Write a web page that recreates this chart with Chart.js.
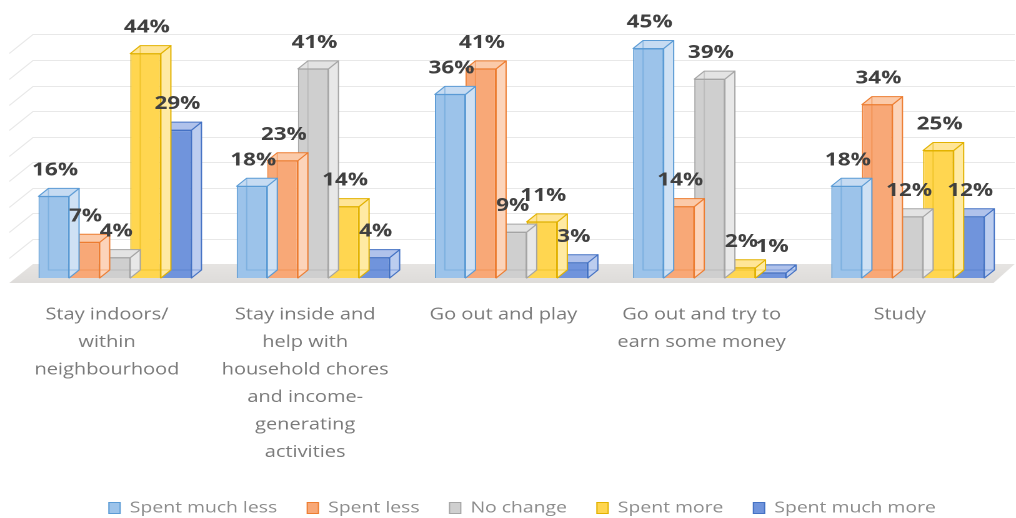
<!DOCTYPE html>
<html>
<head>
<meta charset="utf-8">
<script src="https://cdn.jsdelivr.net/npm/chart.js@4/dist/chart.umd.min.js"></script>
<style>
  html, body { margin: 0; padding: 0; background: #ffffff; }
  #wrap { width: 1016px; height: 518px; }
</style>
</head>
<body>
<div id="wrap"><canvas id="c" width="813" height="518" style="width:1016px;height:518px;display:block"></canvas></div>
<script>
// ---- data ----
const categories = [
  ["Stay indoors/", "within", "neighbourhood"],
  ["Stay inside and", "help with", "household chores", "and income-", "generating", "activities"],
  ["Go out and play"],
  ["Go out and try to", "earn some money"],
  ["Study"]
];
const seriesNames = ["Spent much less", "Spent less", "No change", "Spent more", "Spent much more"];
const spentMuchLess = [16, 18, 36, 45, 18];
const spentLess     = [7, 23, 41, 14, 34];
const noChange      = [4, 41, 9, 39, 12];
const spentMore     = [44, 14, 11, 2, 25];
const spentMuchMore = [29, 4, 3, 1, 12];
const gridValues = [5, 10, 15, 20, 25, 30, 35, 40, 45];

// ---- styling ----
const palette = [
  { front: '#9cc3ea', side: '#cfe1f4', top: '#c6dbf2', edge: '#5b9bd5' },
  { front: '#f8a877', side: '#fcd4ba', top: '#fbcaa9', edge: '#ed7d31' },
  { front: '#cfcfcf', side: '#e8e8e8', top: '#e3e3e3', edge: '#a5a5a5' },
  { front: '#ffd650', side: '#ffeaa3', top: '#ffe597', edge: '#e2b200' },
  { front: '#7094dc', side: '#bccdef', top: '#b0c2eb', edge: '#4472c4' }
];
const DEPTH_X = 8, DEPTH_Y = -8;     // bar depth offset
const WALL_Y = -14;                  // back wall offset relative to bar fronts
const FLOOR = { backY: 264, frontY: 283, backL: 26.4, frontL: 7.4, backR: 812, frontR: 795 };
const PLOT_BOTTOM = 278;             // front edge of the bars' base
const LEGEND_ROW_Y = 508;
const LEGEND_SHIFT_X = 8.8;

const seriesValues = [spentMuchLess, spentLess, noChange, spentMore, spentMuchMore];

// floor and back-wall grid drawn behind the bars
const roomPlugin = {
  id: 'room',
  beforeDatasetsDraw(chart) {
    const ctx = chart.ctx;
    const y = chart.scales.y;
    ctx.save();
    // floor
    ctx.beginPath();
    ctx.moveTo(FLOOR.backL, FLOOR.backY);
    ctx.lineTo(FLOOR.backR, FLOOR.backY);
    ctx.lineTo(FLOOR.frontR, FLOOR.frontY);
    ctx.lineTo(FLOOR.frontL, FLOOR.frontY);
    ctx.closePath();
    const g = ctx.createLinearGradient(0, FLOOR.backY, 0, FLOOR.frontY);
    g.addColorStop(0, '#e6e4e2');
    g.addColorStop(1, '#dedcda');
    ctx.fillStyle = g;
    ctx.fill();
    // gridlines on back wall and left side wall
    ctx.strokeStyle = '#e8e8e8';
    ctx.lineWidth = 1;
    gridValues.forEach(v => {
      const py = Math.round(y.getPixelForValue(v) + WALL_Y) + 0.5;
      ctx.beginPath();
      ctx.moveTo(FLOOR.frontL, py + (FLOOR.frontY - FLOOR.backY));
      ctx.lineTo(FLOOR.backL, py);
      ctx.lineTo(FLOOR.backR, py);
      ctx.stroke();
    });
    ctx.restore();
  },
  // side and top faces of each bar, plus faint see-through back edges
  afterDatasetDraw(chart, args) {
    const ctx = chart.ctx;
    const c = palette[args.index];
    ctx.save();
    ctx.lineWidth = 1;
    ctx.lineJoin = 'round';
    args.meta.data.forEach(bar => {
      const w = bar.width;
      const l = bar.x - w / 2, r = bar.x + w / 2, t = bar.y, b = bar.base;
      // right side
      ctx.beginPath();
      ctx.moveTo(r, t); ctx.lineTo(r + DEPTH_X, t + DEPTH_Y);
      ctx.lineTo(r + DEPTH_X, b + DEPTH_Y); ctx.lineTo(r, b); ctx.closePath();
      ctx.fillStyle = c.side; ctx.fill();
      ctx.strokeStyle = c.edge; ctx.stroke();
      // top
      ctx.beginPath();
      ctx.moveTo(l, t); ctx.lineTo(l + DEPTH_X, t + DEPTH_Y);
      ctx.lineTo(r + DEPTH_X, t + DEPTH_Y); ctx.lineTo(r, t); ctx.closePath();
      ctx.fillStyle = c.top; ctx.fill();
      ctx.strokeStyle = c.edge; ctx.stroke();
      // hidden back edges seen through the glass
      ctx.globalAlpha = 0.45;
      ctx.beginPath();
      ctx.moveTo(l + DEPTH_X, t + DEPTH_Y); ctx.lineTo(l + DEPTH_X, b + DEPTH_Y);
      ctx.lineTo(r + DEPTH_X, b + DEPTH_Y);
      ctx.strokeStyle = c.edge; ctx.stroke();
      ctx.globalAlpha = 1;
    });
    ctx.restore();
  },
  // value labels above the bars
  afterDatasetsDraw(chart) {
    const ctx = chart.ctx;
    ctx.save();
    ctx.font = 'bold 18px "Open Sans"';
    ctx.fillStyle = '#404040';
    ctx.textAlign = 'center';
    ctx.textBaseline = 'middle';
    for (let i = 0; i < categories.length; i++) {
      chart.data.datasets.forEach((ds, di) => {
        const bar = chart.getDatasetMeta(di).data[i];
        ctx.fillText(ds.data[i] + '%', bar.x + 1, bar.y - 26);
      });
    }
    ctx.restore();
  },
  // place the legend row
  afterLayout(chart) {
    const lg = chart.legend;
    if (!lg) return;
    const opts = lg.options.labels;
    const itemH = Math.max(opts.boxHeight, opts.font.size);
    const dy = LEGEND_ROW_Y - (lg.top + opts.padding + itemH / 2);
    lg.top += dy; lg.bottom += dy;
    lg.left += LEGEND_SHIFT_X; lg.right += LEGEND_SHIFT_X;
  }
};

new Chart(document.getElementById('c'), {
  type: 'bar',
  data: {
    labels: categories,
    datasets: seriesValues.map((vals, i) => ({
      label: seriesNames[i],
      data: vals,
      backgroundColor: palette[i].front,
      borderColor: palette[i].edge,
      borderWidth: 1,
      categoryPercentage: 0.772,
      barPercentage: 1.0
    }))
  },
  options: {
    responsive: false,
    animation: false,
    devicePixelRatio: 2,
    layout: { padding: { top: 23, left: 12.7, right: 7.3, bottom: 0 } },
    scales: {
      x: {
        grid: { display: false, drawTicks: false },
        border: { display: false },
        ticks: {
          color: '#7a7a7a',
          font: { family: 'Open Sans', size: 16, lineHeight: 1.72 },
          padding: 23,
          labelOffset: -6.4,
          maxRotation: 0,
          autoSkip: false
        },
        afterFit(scale) {
          const lg = scale.chart.legend;
          scale.height = scale.chart.height - PLOT_BOTTOM - (lg ? lg.height : 0);
        }
      },
      y: {
        display: false,
        min: 0,
        max: 50
      }
    },
    plugins: {
      legend: {
        position: 'bottom',
        labels: {
          color: '#8c8c8c',
          font: { family: 'Open Sans', size: 15.5 },
          boxWidth: 9,
          boxHeight: 11,
          padding: 24
        }
      },
      tooltip: { enabled: false }
    }
  },
  plugins: [roomPlugin]
});
</script>
</body>
</html>
